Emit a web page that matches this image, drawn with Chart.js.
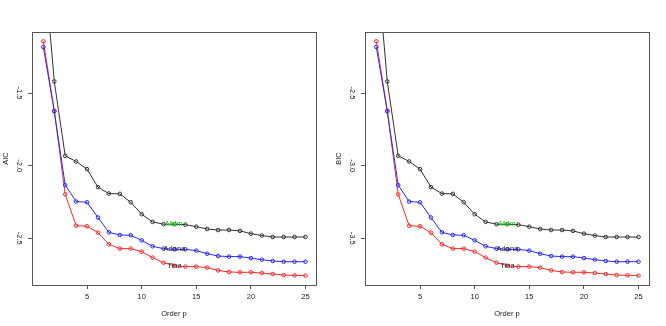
<!DOCTYPE html>
<html>
<head>
<meta charset="utf-8">
<script src="https://cdn.jsdelivr.net/npm/chart.js@4/dist/chart.umd.min.js"></script>
<style>
  html, body { margin: 0; padding: 0; background: #fff; }
  #wrap { display: flex; width: 666px; height: 326px; }
  .panel { position: relative; width: 333px; height: 326px; }
</style>
</head>
<body>
<div id="wrap">
  <div class="panel"><canvas id="aicChart"></canvas></div>
  <div class="panel"><canvas id="bicChart"></canvas></div>
</div>
<script>
// model order on the x axis
const orders = [1, 2, 3, 4, 5, 6, 7, 8, 9, 10, 11, 12, 13, 14, 15, 16, 17, 18, 19, 20, 21, 22, 23, 24, 25];

// AIC by series
const aicMdm = [-0.55, -1.420, -1.932, -1.971, -2.024, -2.148, -2.192, -2.194, -2.252, -2.334, -2.387, -2.403, -2.403, -2.406, -2.420, -2.436, -2.443, -2.443, -2.449, -2.468, -2.481, -2.491, -2.491, -2.491, -2.491];
const aicAdana = [-1.183, -1.626, -2.134, -2.247, -2.252, -2.357, -2.459, -2.477, -2.479, -2.514, -2.555, -2.571, -2.576, -2.576, -2.585, -2.606, -2.622, -2.626, -2.626, -2.636, -2.647, -2.656, -2.661, -2.661, -2.661];
const aicTina = [-1.144, -1.622, -2.197, -2.413, -2.417, -2.461, -2.541, -2.571, -2.571, -2.592, -2.633, -2.668, -2.689, -2.695, -2.695, -2.702, -2.721, -2.732, -2.734, -2.734, -2.739, -2.746, -2.753, -2.755, -2.757];

// BIC by series
const bicMdm = [-1.55, -2.420, -2.932, -2.971, -3.024, -3.148, -3.192, -3.194, -3.252, -3.334, -3.387, -3.403, -3.403, -3.406, -3.420, -3.436, -3.443, -3.443, -3.449, -3.468, -3.481, -3.491, -3.491, -3.491, -3.491];
const bicAdana = [-2.183, -2.626, -3.134, -3.247, -3.252, -3.357, -3.459, -3.477, -3.479, -3.514, -3.555, -3.571, -3.576, -3.576, -3.585, -3.606, -3.622, -3.626, -3.626, -3.636, -3.647, -3.656, -3.661, -3.661, -3.661];
const bicTina = [-2.144, -2.622, -3.197, -3.413, -3.417, -3.461, -3.541, -3.571, -3.571, -3.592, -3.633, -3.668, -3.689, -3.695, -3.695, -3.702, -3.721, -3.732, -3.734, -3.734, -3.739, -3.746, -3.753, -3.755, -3.757];

// tick labels
const xTicks = [5, 10, 15, 20, 25];
const aicTicks = [-1.5, -2.0, -2.5];
const bicTicks = [-2.5, -3.0, -3.5];

// series names, written on the plot at this order
const seriesNames = ['Mdm', 'Adana', 'Tina'];
const nameOrder = 13;

const FONT = 'Liberation Sans, Arial, sans-serif';
const TEXT = '#222';
const FRAME = '#555';

// box around the plot region + the series names
const rPlotPlugin = {
    id: 'rPlot',
    afterDraw(chart) {
        const { ctx, chartArea: a, scales } = chart;
        ctx.save();
        ctx.strokeStyle = FRAME;
        ctx.lineWidth = 1;
        ctx.strokeRect(Math.round(a.left) + 0.5, Math.round(a.top) + 0.5,
            Math.round(a.right - a.left), Math.round(a.bottom - a.top));

        const idx = orders.indexOf(nameOrder);
        const colors = ['#00dd00', TEXT, TEXT];
        chart.data.datasets.forEach((ds) => {
            const k = ds.nameIndex;
            ctx.font = '7.5px ' + FONT;
            ctx.textAlign = 'center';
            ctx.textBaseline = 'middle';
            ctx.fillStyle = colors[k];
            ctx.fillText(seriesNames[k], scales.x.getPixelForValue(orders[idx]), scales.y.getPixelForValue(ds.data[idx].y));
        });
        ctx.restore();
    }
};

function pts(values) {
    return values.map((v, i) => ({ x: orders[i], y: v }));
}

function makeChart(id, yTitle, mdm, adana, tina, yTicks, yMin, yMax) {
    const line = (data, color, nameIndex) => ({
        data: pts(data),
        nameIndex: nameIndex,
        borderColor: color,
        borderWidth: 1,
        pointRadius: 1.8,
        pointBorderWidth: 1,
        pointBorderColor: color,
        pointBackgroundColor: 'rgba(0,0,0,0)',
        tension: 0
    });

    new Chart(document.getElementById(id), {
        type: 'line',
        data: {
            datasets: [
                line(adana, 'rgb(40,40,255)', 1),
                line(tina, 'rgb(255,40,40)', 2),
                line(mdm, '#333', 0)
            ]
        },
        options: {
            responsive: true,
            maintainAspectRatio: false,
            animation: false,
            events: [],
            layout: { padding: { top: 32, right: 17, left: 0, bottom: 0 } },
            plugins: { legend: { display: false }, tooltip: { enabled: false } },
            scales: {
                x: {
                    type: 'linear',
                    min: -0.04,
                    max: 25.96,
                    afterBuildTicks: (s) => { s.ticks = xTicks.map(v => ({ value: v })); },
                    afterFit: (s) => { s.height = 41; },
                    grid: { drawOnChartArea: false, drawTicks: true, tickLength: 4, color: FRAME },
                    border: { display: true, color: FRAME },
                    ticks: {
                        color: TEXT, padding: 3, maxRotation: 0,
                        font: { family: FONT, size: 7.5 },
                        callback: (v) => String(v)
                    },
                    title: {
                        display: true, text: 'Order p', color: TEXT,
                        font: { family: FONT, size: 7.5 },
                        padding: { top: 0, bottom: 8 }
                    }
                },
                y: {
                    type: 'linear',
                    min: yMin,
                    max: yMax,
                    afterBuildTicks: (s) => { s.ticks = yTicks.map(v => ({ value: v })); },
                    afterFit: (s) => { s.width = 32; },
                    grid: { drawOnChartArea: false, drawTicks: true, tickLength: 4, color: FRAME },
                    border: { display: true, color: FRAME },
                    ticks: {
                        color: TEXT, padding: 2, minRotation: -90, maxRotation: -90,
                        crossAlign: 'center',
                        font: { family: FONT, size: 7.5 },
                        callback: (v) => v.toFixed(1)
                    },
                    title: {
                        display: true, text: yTitle, color: TEXT,
                        font: { family: FONT, size: 7.5 },
                        padding: { top: 1, bottom: 0 }
                    }
                }
            }
        },
        plugins: [rPlotPlugin]
    });
}

makeChart('aicChart', 'AIC', aicMdm, aicAdana, aicTina, aicTicks, -2.8215, -1.0795);
makeChart('bicChart', 'BIC', bicMdm, bicAdana, bicTina, bicTicks, -3.8215, -2.0795);
</script>
</body>
</html>
